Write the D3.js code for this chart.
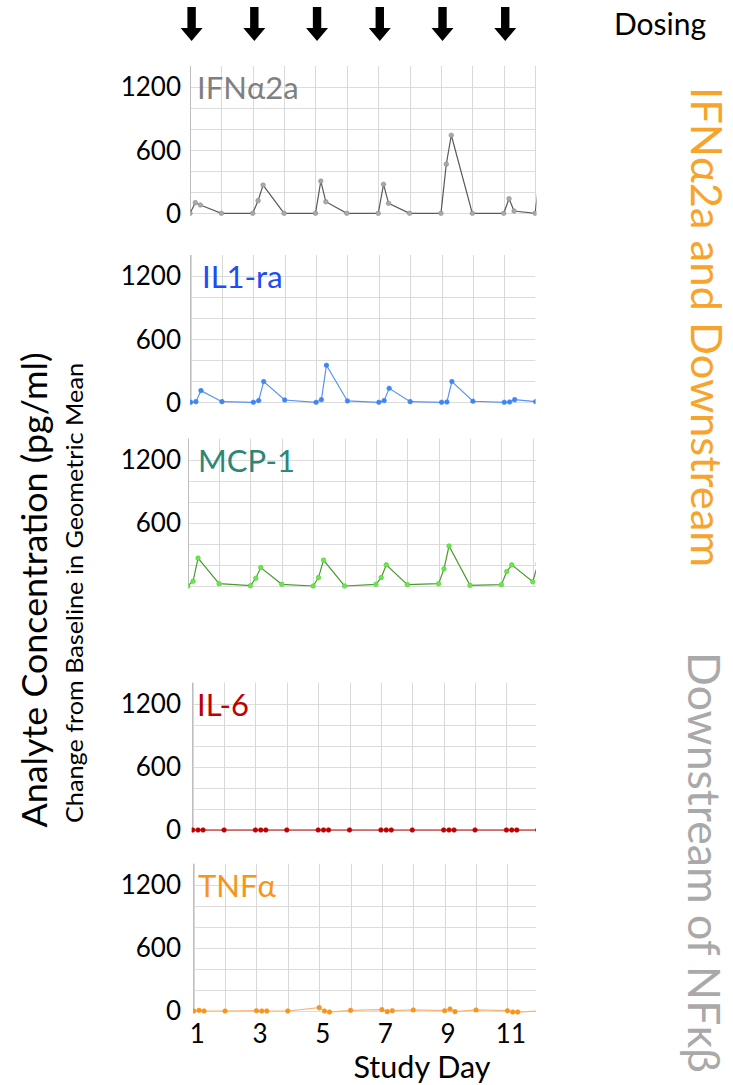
<!DOCTYPE html>
<html>
<head>
<meta charset="utf-8">
<script src="https://cdn.jsdelivr.net/npm/d3@7"></script>
<style>
  html, body { margin: 0; padding: 0; background: #fff; }
  svg { display: block; font-family: Lato, "Open Sans", sans-serif; }
</style>
</head>
<body>
<svg id="chart" width="733" height="1085"></svg>
<script>
// Sampling times in study days: pre-dose, +4 h, +8 h and +24 h around each dose
const studyDays = [1, 1.17, 1.33, 2, 3, 3.17, 3.33, 4, 5, 5.17, 5.33, 6,
                   7, 7.17, 7.33, 8, 9, 9.17, 9.33, 10, 11, 11.17, 11.33, 12, 12.17];

// Change from baseline in geometric mean (pg/ml)
const ifna2a = [0, 101, 79, 0, 0, 120, 268, 0, 0, 306, 110, 0,
                0, 275, 95, 0, 0, 467, 742, 0, 0, 139, 22, 0, 400];
const il1ra  = [0, 6, 111, 6, 0, 16, 197, 22, 0, 25, 352, 13,
                0, 16, 133, 6, 0, 3, 197, 10, 0, 3, 25, 6];
const mcp1   = [0, 45, 265, 22, 3, 73, 175, 16, 0, 80, 246, 0,
                16, 80, 201, 13, 22, 163, 380, 6, 13, 137, 201, 41, 213];
const il6    = [0, 0, 0, 0, 0, 0, 0, 0, 0, 0, 0, 0,
                0, 0, 0, 0, 0, 0, 0, 0, 0, 0, 0, 0];
const tnfa   = [0, 6, 0, 0, 3, 0, 0, 0, 32, 0, -10, 6,
                13, -6, 3, 10, 3, 19, -6, 10, 3, -10, -10, 0];

const doseDays = [1, 3, 5, 7, 9, 11];
const xTickDays = [1, 3, 5, 7, 9, 11];
const yTickValues = [0, 600, 1200];
const yGridValues = [0, 200, 400, 600, 800, 1000, 1200];
const gridDays = [1, 2, 3, 4, 5, 6, 7, 8, 9, 10, 11, 12];

const panels = [
  { name: "IFNα2a", values: ifna2a, titleColor: "#7f7f7f", line: "#5a5a5a", dot: "#a9a9a9", dotStroke: "#8f8f8f",
    left: 190, right: 536.5, x1: 190, y0: 213.3, titleX: 197, zeroLabel: true },
  { name: "IL1-ra", values: il1ra, titleColor: "#1d4ef5", line: "#5a93f0", dot: "#3f86f2", dotStroke: "#3f86f2",
    left: 190, right: 535.5, x1: 190.6, y0: 402.3, titleX: 202, zeroLabel: true },
  { name: "MCP-1", values: mcp1, titleColor: "#2e8677", line: "#4a9a2e", dot: "#6ae84a", dotStroke: "#56c93a",
    left: 188, right: 536, x1: 187.7, y0: 586, titleX: 198, zeroLabel: false },
  { name: "IL-6", values: il6, titleColor: "#c00000", line: "#c00000", dot: "#c00000", dotStroke: "#c00000",
    left: 191.7, right: 536, x1: 192.7, y0: 830, titleX: 197, zeroLabel: true },
  { name: "TNFα", values: tnfa, titleColor: "#f7941d", line: "#f8b37a", dot: "#f7941d", dotStroke: "#f7941d",
    left: 193, right: 536, x1: 193.7, y0: 1011, titleX: 198, zeroLabel: true }
];

const svg = d3.select("#chart");
const defs = svg.append("defs");
const dayStep = 31.37;

panels.forEach((p, i) => {
  const x = d3.scaleLinear().domain([1, 12]).range([p.x1, p.x1 + 11 * dayStep]);
  const y = d3.scaleLinear().domain([0, 1400]).range([p.y0, p.y0 - 147.3]);
  const top = y(1400);

  const clipId = "clip" + i;
  defs.append("clipPath").attr("id", clipId)
    .append("rect")
    .attr("x", p.left).attr("y", top - 4)
    .attr("width", p.right - p.left).attr("height", p.y0 - top + 10);

  const g = svg.append("g");

  // grid
  const grid = g.append("g").attr("clip-path", `url(#${clipId})`);
  grid.selectAll("line.h").data(yGridValues).join("line")
    .attr("x1", p.left).attr("x2", p.right)
    .attr("y1", d => Math.round(y(d)) + 0.5).attr("y2", d => Math.round(y(d)) + 0.5)
    .attr("stroke", "#dcdcdc").attr("stroke-width", 1);
  grid.selectAll("line.v").data(gridDays).join("line")
    .attr("x1", d => Math.round(x(d)) + 0.5).attr("x2", d => Math.round(x(d)) + 0.5)
    .attr("y1", top).attr("y2", p.y0)
    .attr("stroke", "#d9d9d9").attr("stroke-width", 1);

  // left axis line
  g.append("line")
    .attr("x1", Math.round(p.left) + 0.5).attr("x2", Math.round(p.left) + 0.5)
    .attr("y1", top).attr("y2", p.y0)
    .attr("stroke", "#bdbdbd").attr("stroke-width", 1);

  // y tick labels
  const yLabels = p.zeroLabel ? yTickValues : yTickValues.filter(v => v !== 0);
  g.selectAll("text.ytick").data(yLabels).join("text")
    .attr("x", 181).attr("y", d => y(d))
    .attr("dy", "0.36em")
    .attr("text-anchor", "end")
    .attr("font-size", 26)
    .attr("fill", "#000")
    .text(d => d);

  // series title
  g.append("text")
    .attr("x", p.titleX).attr("y", p.y0 - 114.5)
    .attr("font-size", 31)
    .attr("fill", p.titleColor)
    .text(p.name);

  // series
  const pts = p.values.map((v, k) => ({ day: studyDays[k], v }));
  const series = g.append("g").attr("clip-path", `url(#${clipId})`);
  series.append("path")
    .datum(pts)
    .attr("fill", "none")
    .attr("stroke", p.line)
    .attr("stroke-width", 1.2)
    .attr("d", d3.line().x(d => x(d.day)).y(d => y(d.v)));
  series.selectAll("circle").data(pts).join("circle")
    .attr("cx", d => x(d.day)).attr("cy", d => y(d.v))
    .attr("r", 2.3)
    .attr("fill", p.dot)
    .attr("stroke", p.dotStroke)
    .attr("stroke-width", 0.6);

  // x tick labels on the bottom panel only
  if (i === panels.length - 1) {
    g.selectAll("text.xtick").data(xTickDays).join("text")
      .attr("x", d => x(d) + 3.5).attr("y", 1043)
      .attr("text-anchor", "middle")
      .attr("font-size", 26)
      .attr("fill", "#000")
      .text(d => d);
  }
});

// dosing arrows
const xDose = d3.scaleLinear().domain([1, 12]).range([191.6, 536.6]);
const arrowPath = "M-4.2,7 L4.2,7 L4.2,28 L11,28 L0,41 L-11,28 L-4.2,28 Z";
svg.append("g").selectAll("path").data(doseDays).join("path")
  .attr("transform", d => `translate(${xDose(d)},0)`)
  .attr("d", arrowPath)
  .attr("fill", "#000");

svg.append("text")
  .attr("x", 614).attr("y", 35)
  .attr("font-size", 30)
  .attr("fill", "#000")
  .text("Dosing");

// x axis title
svg.append("text")
  .attr("x", 422).attr("y", 1078)
  .attr("text-anchor", "middle")
  .attr("font-size", 30)
  .attr("textLength", 137)
  .attr("lengthAdjust", "spacingAndGlyphs")
  .attr("fill", "#000")
  .text("Study Day");

// y axis titles
svg.append("text")
  .attr("transform", "translate(47,590) rotate(-90)")
  .attr("text-anchor", "middle")
  .attr("font-size", 35)
  .attr("textLength", 475)
  .attr("lengthAdjust", "spacingAndGlyphs")
  .attr("fill", "#000")
  .text("Analyte Concentration (pg/ml)");

svg.append("text")
  .attr("transform", "translate(83,593) rotate(-90)")
  .attr("text-anchor", "middle")
  .attr("font-size", 24)
  .attr("textLength", 460)
  .attr("lengthAdjust", "spacingAndGlyphs")
  .attr("fill", "#000")
  .text("Change from Baseline in Geometric Mean");

// group labels on the right
svg.append("text")
  .attr("transform", "translate(691,87) rotate(90)")
  .attr("font-size", 42)
  .attr("textLength", 480)
  .attr("lengthAdjust", "spacingAndGlyphs")
  .attr("fill", "#f6a42c")
  .text("IFNα2a and Downstream");

svg.append("text")
  .attr("transform", "translate(688,652) rotate(90)")
  .attr("font-size", 45)
  .attr("textLength", 421)
  .attr("lengthAdjust", "spacingAndGlyphs")
  .attr("fill", "#a9a9a9")
  .text("Downstream of NFκβ");
</script>
</body>
</html>
